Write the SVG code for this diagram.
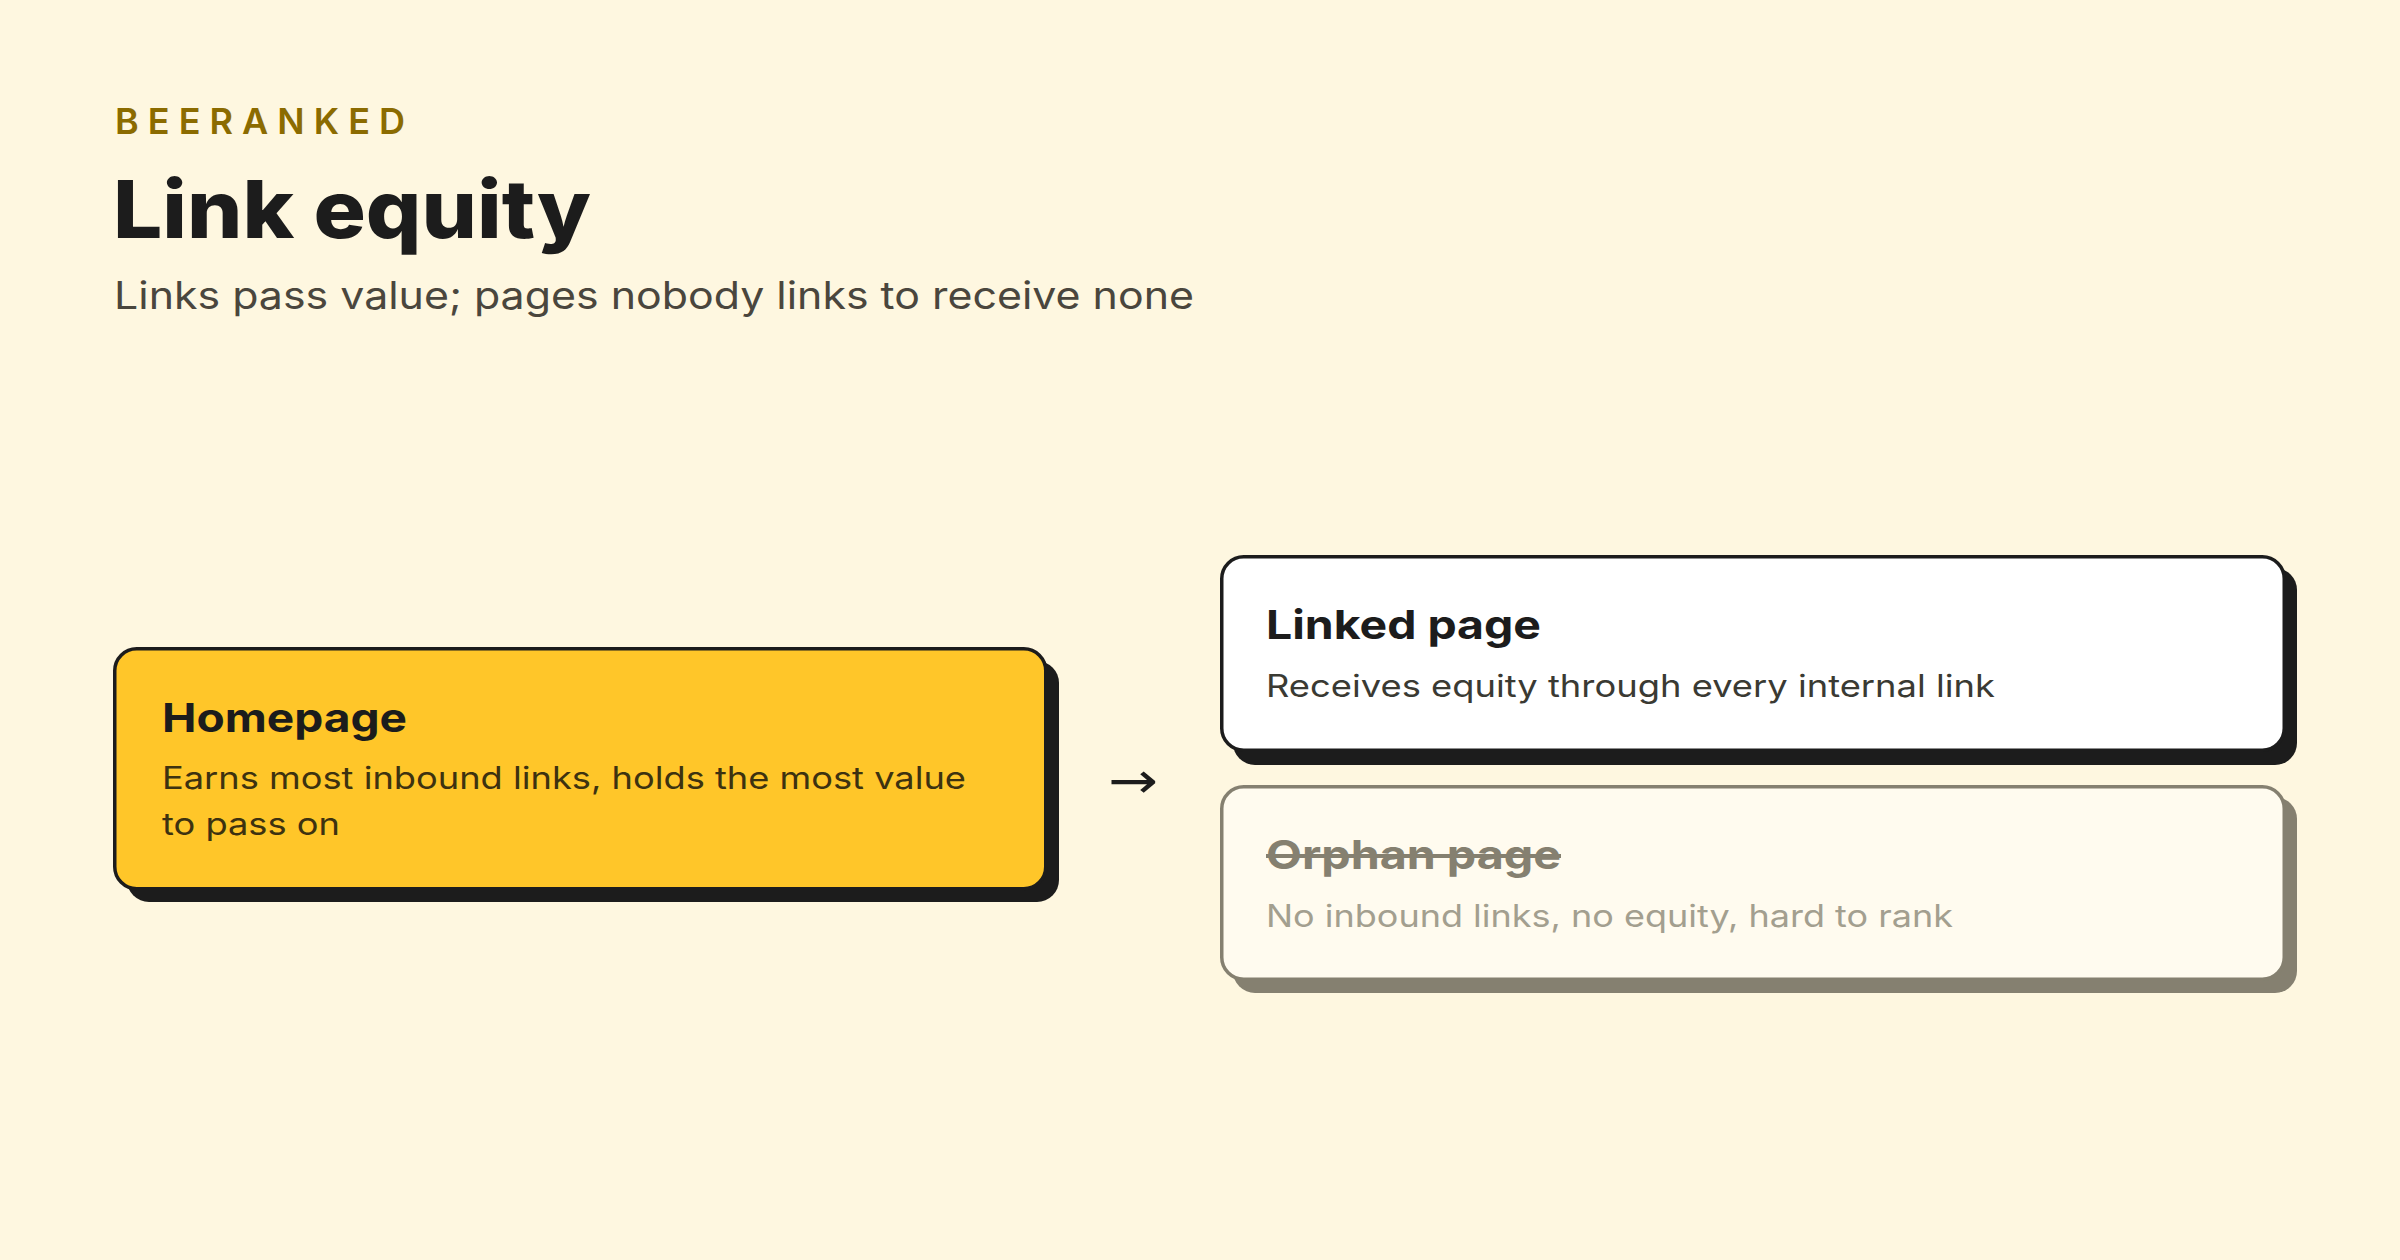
<svg xmlns="http://www.w3.org/2000/svg" width="2400" height="1260" viewBox="0 0 2400 1260">
<style>
text{font-family:Inter,"Liberation Sans",sans-serif}
.brand{font-size:36px;font-weight:600;fill:#8B6B00}
.title{font-size:80px;font-weight:800;fill:#1c1c1c}
.sub{font-size:38px;fill:#4a463d}
.h{font-size:40px;font-weight:700;fill:#1c1c1c}
.b{font-size:31px;fill:#3a3a33}
.hb{font-size:31px;fill:#3d3210}
.oh{font-size:40px;font-weight:700;fill:#858070;text-decoration:line-through}
.ob{font-size:31px;fill:#a39f8f}
.arrow{font-family:"DejaVu Sans",sans-serif;font-size:50px;fill:#1c1c1c}
</style>
<rect width="2400" height="1260" fill="#FEF7E0"/>
<g id="header">
<text class="brand" x="115" y="134" textLength="290" lengthAdjust="spacing">BEERANKED</text>
<text class="title" x="113" y="238" textLength="478" lengthAdjust="spacingAndGlyphs">Link equity</text>
<text class="sub" x="114" y="309" textLength="1080" lengthAdjust="spacingAndGlyphs">Links pass value; pages nobody links to receive none</text>
</g>
<g id="homepage">
<rect x="127" y="661" width="932" height="241" rx="22" fill="#1c1c1c"/>
<rect x="114.75" y="648.75" width="931" height="240" rx="22" fill="#FFC629" stroke="#1c1c1c" stroke-width="3.5"/>
<text class="h" x="162" y="732" textLength="245" lengthAdjust="spacingAndGlyphs">Homepage</text>
<text class="hb" x="162" y="789" textLength="804" lengthAdjust="spacingAndGlyphs">Earns most inbound links, holds the most value</text>
<text class="hb" x="162" y="835" textLength="178" lengthAdjust="spacingAndGlyphs">to pass on</text>
</g>
<g id="connectors">
<text class="arrow" x="1108" y="798" textLength="50" lengthAdjust="spacingAndGlyphs">→</text>
</g>
<g id="linked">
<rect x="1233" y="568" width="1064" height="197" rx="22" fill="#1c1c1c"/>
<rect x="1221.75" y="556.75" width="1062.5" height="193.5" rx="22" fill="#FFFFFF" stroke="#1c1c1c" stroke-width="3.5"/>
<text class="h" x="1266" y="639" textLength="275" lengthAdjust="spacingAndGlyphs">Linked page</text>
<text class="b" x="1266" y="697" textLength="729" lengthAdjust="spacingAndGlyphs">Receives equity through every internal link</text>
</g>
<g id="orphan">
<rect x="1233" y="797" width="1064" height="196" rx="22" fill="#858070"/>
<rect x="1221.75" y="786.75" width="1062.5" height="192.5" rx="22" fill="#FFFBEF" stroke="#858070" stroke-width="3.5"/>
<text class="oh" x="1266" y="869" textLength="295" lengthAdjust="spacingAndGlyphs">Orphan page</text>
<text class="ob" x="1266" y="927" textLength="687" lengthAdjust="spacingAndGlyphs">No inbound links, no equity, hard to rank</text>
</g>
</svg>
